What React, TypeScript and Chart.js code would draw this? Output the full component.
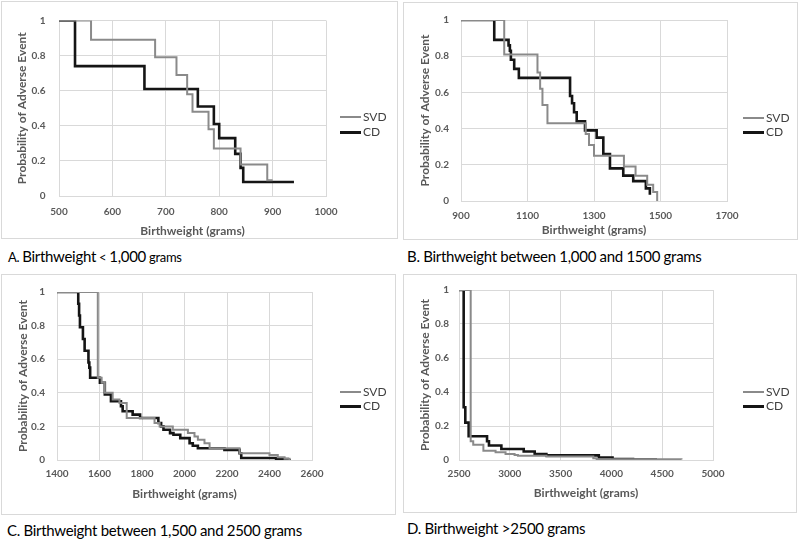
import React, { useEffect, useRef } from 'react';
import Chart from 'chart.js/auto';

const FONT = 'Lato, "Open Sans", sans-serif';
const seriesNames = ['SVD', 'CD'];
const yTitle = 'Probability of Adverse Event';
const xTitle = 'Birthweight (grams)';
const yTicks = [0, 0.2, 0.4, 0.6, 0.8, 1];

// Panel A: Birthweight < 1,000 grams
const aTicksX = [500, 600, 700, 800, 900, 1000];
const aSvdX = [500, 560, 680, 720, 740, 750, 780, 790, 840, 890, 900];
const aSvdY = [1, 0.89, 0.79, 0.69, 0.58, 0.48, 0.38, 0.27, 0.18, 0.09, 0.09];
const aCdX = [500, 530, 660, 760, 790, 800, 830, 840, 845, 940];
const aCdY = [1, 0.74, 0.61, 0.51, 0.41, 0.33, 0.24, 0.16, 0.08, 0.08];

// Panel B: 1,000 - 1500 grams
const bTicksX = [900, 1100, 1300, 1500, 1700];
const bSvdX = [900, 1030, 1130, 1138, 1145, 1160, 1275, 1285, 1300, 1390, 1425, 1460, 1478, 1490];
const bSvdY = [1, 0.81, 0.71, 0.62, 0.53, 0.43, 0.37, 0.31, 0.25, 0.19, 0.14, 0.09, 0.05, 0];
const bCdX = [900, 1000, 1043, 1047, 1050, 1060, 1074, 1228, 1234, 1240, 1248, 1273, 1308, 1328, 1348, 1388, 1418, 1456, 1468];
const bCdY = [1, 0.89, 0.86, 0.83, 0.78, 0.73, 0.68, 0.58, 0.54, 0.49, 0.44, 0.39, 0.35, 0.26, 0.18, 0.14, 0.11, 0.07, 0.035];

// Panel C: 1,500 - 2500 grams
const cTicksX = [1400, 1600, 1800, 2000, 2200, 2400, 2600];
const cSvdX = [1400, 1592, 1610, 1625, 1662, 1694, 1728, 1859, 1883, 1945, 2016, 2047, 2063, 2094, 2118, 2259, 2400, 2439, 2471, 2494];
const cSvdY = [1, 0.49, 0.46, 0.40, 0.36, 0.34, 0.25, 0.22, 0.20, 0.18, 0.16, 0.14, 0.12, 0.10, 0.07, 0.04, 0.03, 0.017, 0.008, 0];
const cCdX = [1400, 1500, 1504, 1508, 1522, 1530, 1548, 1552, 1556, 1602, 1625, 1654, 1701, 1709, 1756, 1791, 1877, 1890, 1901, 1932, 1948, 1980, 2024, 2039, 2063, 2188, 2259, 2267, 2431, 2486, 2500];
const cCdY = [1, 0.93, 0.86, 0.79, 0.72, 0.65, 0.58, 0.55, 0.49, 0.46, 0.39, 0.35, 0.32, 0.29, 0.27, 0.25, 0.22, 0.20, 0.18, 0.16, 0.15, 0.13, 0.10, 0.085, 0.07, 0.06, 0.04, 0.012, 0.005, 0, 0];

// Panel D: > 2500 grams
const dTicksX = [2500, 3000, 3500, 4000, 4500, 5000];
const dSvdX = [2500, 2615, 2640, 2740, 2860, 2958, 3047, 3080, 3360, 3822, 3855, 4690];
const dSvdY = [1, 0.11, 0.09, 0.055, 0.045, 0.035, 0.03, 0.025, 0.02, 0.01, 0.005, 0.003];
const dCdX = [2500, 2546, 2562, 2595, 2776, 2795, 2917, 3137, 3245, 3360, 3876, 4011, 4213, 4449];
const dCdY = [1, 0.31, 0.22, 0.14, 0.11, 0.085, 0.065, 0.05, 0.035, 0.027, 0.015, 0.005, 0.003, 0.003];

type Lay = {
  frame: [number, number, number, number];
  plot: [number, number, number, number];
  yTitlePad: number;
  yTickPad: number;
  xTickPad: number;
  xTitlePad: number;
  legendX: number;
  legendY: [number, number];
};

const layA: Lay = { frame: [1, 1, 398, 239], plot: [59, 19, 326, 196], yTitlePad: 13.5, yTickPad: 13.5, xTickPad: 10, xTitlePad: 1, legendX: 340, legendY: [117, 132] };
const layB: Lay = { frame: [403, 2, 798, 240], plot: [461, 13, 727, 201], yTitlePad: 14.8, yTickPad: 12, xTickPad: 9, xTitlePad: 2.8, legendX: 743, legendY: [118, 132] };
const layC: Lay = { frame: [1, 274, 396, 515], plot: [57, 287, 312, 460], yTitlePad: 14.5, yTickPad: 12, xTickPad: 8, xTitlePad: 13.8, legendX: 340, legendY: [392, 406] };
const layD: Lay = { frame: [403, 274, 797, 513], plot: [459, 287, 713, 460], yTitlePad: 14.8, yTickPad: 10, xTickPad: 8, xTitlePad: 12.5, legendX: 743, legendY: [392, 406] };

const SVD_COLOR = '#8a8a8a';
const CD_COLOR = '#151515';
const GRID = '#d9d9d9';
const TICK = '#595959';

function Panel(props: { xTicks: number[]; svdX: number[]; svdY: number[]; cdX: number[]; cdY: number[]; lay: Lay }) {
  const { xTicks, svdX, svdY, cdX, cdY, lay } = props;
  const ref = useRef<HTMLCanvasElement>(null);
  const [fl, ft, fr, fb] = lay.frame;
  const [pl, pt, pr, pb] = lay.plot;
  const W = fr - fl;
  const H = fb - ft;
  useEffect(() => {
    const chart = new Chart(ref.current as HTMLCanvasElement, {
      type: 'scatter',
      data: {
        datasets: [
          {
            label: seriesNames[0],
            data: svdX.map((x, i) => ({ x, y: svdY[i] })),
            showLine: true,
            stepped: true,
            borderColor: SVD_COLOR,
            backgroundColor: SVD_COLOR,
            borderWidth: 2,
            pointRadius: 0,
            pointHoverRadius: 0,
          },
          {
            label: seriesNames[1],
            data: cdX.map((x, i) => ({ x, y: cdY[i] })),
            showLine: true,
            stepped: true,
            borderColor: CD_COLOR,
            backgroundColor: CD_COLOR,
            borderWidth: 2.6,
            pointRadius: 0,
            pointHoverRadius: 0,
          },
        ],
      },
      options: {
        responsive: false,
        animation: false,
        events: [],
        layout: { padding: { top: pt - ft, right: fr - pr, left: 0, bottom: 0 } },
        plugins: { legend: { display: false }, tooltip: { enabled: false } },
        scales: {
          x: {
            type: 'linear',
            min: xTicks[0],
            max: xTicks[xTicks.length - 1],
            ticks: {
              stepSize: xTicks[1] - xTicks[0],
              padding: lay.xTickPad,
              color: TICK,
              font: { family: FONT, size: 10, weight: 'bold' },
              callback: (v: any) => String(v),
              maxRotation: 0,
              autoSkip: false,
            },
            grid: { color: GRID, drawTicks: false, lineWidth: 1 },
            border: { color: GRID },
            title: {
              display: true,
              text: xTitle,
              color: TICK,
              font: { family: FONT, size: 12, weight: 'bold' },
              padding: { top: 0, bottom: lay.xTitlePad },
            },
            afterFit: (s: any) => { s.height = fb - pb; },
          },
          y: {
            type: 'linear',
            min: yTicks[0],
            max: yTicks[yTicks.length - 1],
            ticks: {
              stepSize: yTicks[1] - yTicks[0],
              padding: lay.yTickPad,
              color: TICK,
              font: { family: FONT, size: 10, weight: 'bold' },
              callback: (v: any) => String(Math.round(Number(v) * 10) / 10),
            },
            grid: { color: GRID, drawTicks: false, lineWidth: 1 },
            border: { color: GRID },
            title: {
              display: true,
              text: yTitle,
              color: TICK,
              font: { family: FONT, size: 12, weight: 'bold' },
              padding: { top: lay.yTitlePad, bottom: 0 },
            },
            afterFit: (s: any) => { s.width = pl - fl; },
          },
        },
      } as any,
    });
    return () => chart.destroy();
  }, []);

  const legendItem = (name: string, color: string, thick: number, y: number) => (
    <div key={name} style={{ position: 'absolute', left: lay.legendX, top: y - 8, height: 16, display: 'flex', alignItems: 'center' }}>
      <div style={{ width: 21, height: thick, background: color }} />
      <span style={{ marginLeft: 2, fontFamily: FONT, fontSize: 12, color: '#404040', lineHeight: '16px' }}>{name}</span>
    </div>
  );

  return (
    <>
      <div style={{ position: 'absolute', left: fl, top: ft, width: W, height: H, border: '1px solid #d9d9d9', boxSizing: 'border-box' }} />
      <canvas ref={ref} width={W} height={H} style={{ position: 'absolute', left: fl, top: ft, width: W, height: H }} />
      {legendItem(seriesNames[0], SVD_COLOR, 2, lay.legendY[0])}
      {legendItem(seriesNames[1], CD_COLOR, 3, lay.legendY[1])}
    </>
  );
}

const capStyle: React.CSSProperties = { position: 'absolute', fontFamily: FONT, color: '#000', whiteSpace: 'nowrap', lineHeight: '18px', fontSize: 15, letterSpacing: '-0.3px' };

export default function App() {
  return (
    <div style={{ position: 'absolute', left: 0, top: 0, width: 800, height: 542, background: '#fff', overflow: 'hidden' }}>
      <Panel xTicks={aTicksX} svdX={aSvdX} svdY={aSvdY} cdX={aCdX} cdY={aCdY} lay={layA} />
      <Panel xTicks={bTicksX} svdX={bSvdX} svdY={bSvdY} cdX={bCdX} cdY={bCdY} lay={layB} />
      <Panel xTicks={cTicksX} svdX={cSvdX} svdY={cSvdY} cdX={cCdX} cdY={cCdY} lay={layC} />
      <Panel xTicks={dTicksX} svdX={dSvdX} svdY={dSvdY} cdX={dCdX} cdY={dCdY} lay={layD} />
      <div style={{ ...capStyle, left: 8, top: 247 }}>
        <span style={{ fontSize: 13 }}>A. </span>
        <span>Birthweight</span>
        <span style={{ fontSize: 13 }}> &lt; </span>
        <span>1,000</span>
        <span style={{ fontSize: 13 }}> grams</span>
      </div>
      <div style={{ ...capStyle, left: 407, top: 247 }}>B. Birthweight between 1,000 and 1500 grams</div>
      <div style={{ ...capStyle, left: 7, top: 521 }}>C. Birthweight between 1,500 and 2500 grams</div>
      <div style={{ ...capStyle, left: 407, top: 519 }}>D. Birthweight &gt;2500 grams</div>
    </div>
  );
}
